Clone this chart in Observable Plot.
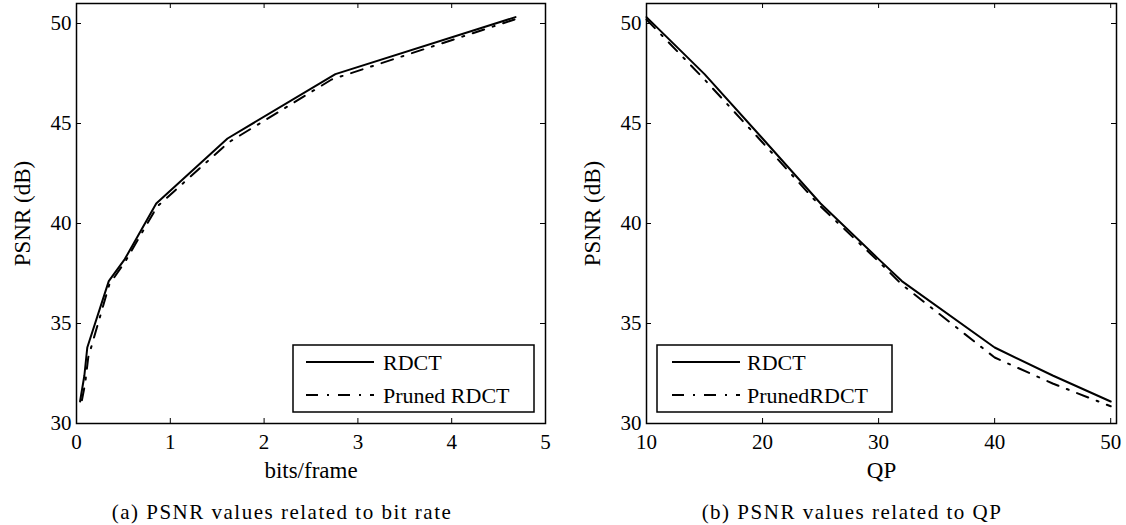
<!DOCTYPE html>
<html><head><meta charset="utf-8">
<script src="https://cdn.jsdelivr.net/npm/d3@7"></script>
<script src="https://cdn.jsdelivr.net/npm/@observablehq/plot@0.6"></script>
<style>
body{margin:0;background:#fff;}
#wrap{position:relative;width:1126px;height:525px;overflow:hidden;background:#fff;}
.panel{position:absolute;top:0;}
#overlay{position:absolute;left:0;top:0;pointer-events:none;}
</style></head><body>
<div id="wrap"><div id="pa" class="panel" style="left:0"></div><div id="pb" class="panel" style="left:563px"></div></div>
<script>
// ---- data ----
const qp = [10, 15, 20, 25, 30, 32, 40, 45, 50];
const rdctBits   = [4.68, 2.76, 1.61, 0.85, 0.515, 0.344, 0.115, 0.084, 0.038];
const prunedBits = [4.67, 2.72, 1.62, 0.86, 0.52, 0.35, 0.125, 0.092, 0.045];
const rdctPsnr   = [50.32, 47.47, 44.25, 41.0, 38.22, 37.12, 33.8, 32.4, 31.1];
const prunedPsnr = [50.2, 47.2, 44.05, 40.85, 38.1, 36.95, 33.3, 32.0, 30.86];
const bitsTicks = [0, 1, 2, 3, 4, 5];
const qpTicks = [10, 20, 30, 40, 50];
const psnrTicks = [30, 35, 40, 45, 50];
const legendA = ["RDCT", "Pruned RDCT"];
const legendB = ["RDCT", "PrunedRDCT"];
const captionA = "(a) PSNR values related to bit rate";
const captionB = "(b) PSNR values related to QP";
const yLabel = "PSNR (dB)";

const W = 563, H = 490, MT = 3, MB = 67;
const PH = H - MT - MB;
const FONT = '"Liberation Serif", "Times New Roman", serif';

function panel(el, {xs, xDomain, xTicks, xLabel, ml, mr}) {
  const rd = xs.r.map((x, i) => ({x, y: rdctPsnr[i]}));
  const pr = xs.p.map((x, i) => ({x, y: prunedPsnr[i]}));
  const PW = W - ml - mr;
  const chart = Plot.plot({
    width: W, height: H, marginLeft: ml, marginRight: mr, marginTop: MT, marginBottom: MB,
    style: {fontFamily: FONT, fontSize: "21px", color: "black", background: "white", overflow: "visible"},
    x: {domain: xDomain},
    y: {domain: [30, 51]},
    marks: [
      Plot.line(pr, {x: "x", y: "y", stroke: "black", strokeWidth: 2, strokeDasharray: "12,9,2,9"}),
      Plot.line(rd, {x: "x", y: "y", stroke: "black", strokeWidth: 2}),
      Plot.tickX(xTicks, {x: d => d, insetTop: PH - 5, stroke: "black", strokeWidth: 1}),
      Plot.tickX(xTicks, {x: d => d, insetBottom: PH - 5, stroke: "black", strokeWidth: 1}),
      Plot.tickY(psnrTicks, {y: d => d, insetRight: PW - 5, stroke: "black", strokeWidth: 1}),
      Plot.tickY(psnrTicks, {y: d => d, insetLeft: PW - 5, stroke: "black", strokeWidth: 1}),
      Plot.axisX(xTicks, {tickSize: 0, tickPadding: 11, label: null, fontSize: 21}),
      Plot.axisY(psnrTicks, {tickSize: 0, tickPadding: 5, label: null, fontSize: 21}),
      Plot.frame({stroke: "black", strokeWidth: 1.5}),
      Plot.text([xLabel], {frameAnchor: "bottom", dy: 47, text: d => d, fontSize: 23, lineAnchor: "middle"}),
      Plot.text([yLabel], {frameAnchor: "left", dx: -54, rotate: -90, text: d => d, fontSize: 23, lineAnchor: "middle", textAnchor: "middle"})
    ]
  });
  document.getElementById(el).appendChild(chart);
  return {ml, mr, PW};
}

const A = panel("pa", {xs: {r: rdctBits, p: prunedBits}, xDomain: [0, 5], xTicks: bitsTicks, xLabel: "bits/frame", ml: 76, mr: 18});
const B = panel("pb", {xs: {r: qp, p: qp}, xDomain: [10, 50.5], xTicks: qpTicks, xLabel: "QP", ml: 83, mr: 10});

// ---- legends and captions ----
const svg = d3.select("#wrap").append("svg").attr("id", "overlay").attr("width", 1126).attr("height", 525)
  .style("font-family", FONT);
function legend(labels, bx, by, bw, bh, l1, l2, tx) {
  const g = svg.append("g");
  g.append("rect").attr("x", bx).attr("y", by).attr("width", bw).attr("height", bh)
    .attr("fill", "white").attr("stroke", "black").attr("stroke-width", 1.5);
  const rows = [by + 17, by + bh - 17];
  const dashes = [null, "12,9,2,9"];
  labels.forEach((lab, i) => {
    g.append("line").attr("x1", l1).attr("x2", l2).attr("y1", rows[i]).attr("y2", rows[i])
      .attr("stroke", "black").attr("stroke-width", 2).attr("stroke-dasharray", dashes[i]);
    g.append("text").attr("x", tx).attr("y", rows[i]).attr("dy", "0.35em").attr("font-size", 22).text(lab);
  });
}
const frameBottom = MT + PH;
legend(legendA, 293, 345, 241, frameBottom - 11 - 345, 306, 374, 383);
legend(legendB, 657, 345, 235, frameBottom - 11 - 345, 672, 740, 747);

svg.append("text").attr("x", 282).attr("y", 512).attr("dy", "0.35em").attr("text-anchor", "middle")
  .attr("font-size", 21).attr("letter-spacing", "1.5px").text(captionA);
svg.append("text").attr("x", 852).attr("y", 512).attr("dy", "0.35em").attr("text-anchor", "middle")
  .attr("font-size", 21).attr("letter-spacing", "1.5px").text(captionB);
</script>
</body></html>
